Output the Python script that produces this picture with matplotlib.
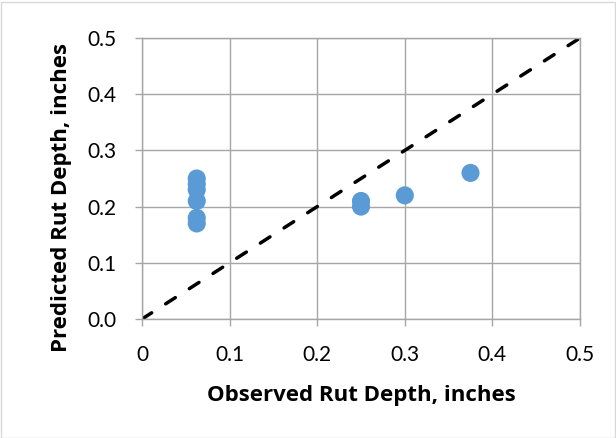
import matplotlib.pyplot as plt
from matplotlib.patches import Rectangle

# observed vs predicted rut depth (inches)
observed = [0.0625, 0.0625, 0.0625, 0.0625, 0.0625, 0.0625, 0.25, 0.25, 0.3, 0.375]
predicted = [0.25, 0.24, 0.23, 0.21, 0.18, 0.17, 0.21, 0.20, 0.22, 0.26]
line_of_equality = [0, 0.5]

plt.rcParams['font.family'] = ['Lato', 'DejaVu Sans']

W, H = 616, 438
fig = plt.figure(figsize=(W / 100, H / 100), dpi=100)
ax = fig.add_axes([142 / W, 1 - 319 / H, 438 / W, 281 / H])

ax.plot(line_of_equality, line_of_equality, color='black', linestyle=(0, (3.3, 4.8)), linewidth=2.5,
        dash_capstyle='round', zorder=2)
ax.scatter(observed, predicted, s=170, color='#5B9BD5', edgecolors='none', zorder=3)

ax.set_xlim(0, 0.5)
ax.set_ylim(0, 0.5)
ax.set_xticks([0, 0.1, 0.2, 0.3, 0.4, 0.5])
ax.set_xticklabels(['0', '0.1', '0.2', '0.3', '0.4', '0.5'])
ax.set_yticks([0, 0.1, 0.2, 0.3, 0.4, 0.5])
ax.set_yticklabels(['0.0', '0.1', '0.2', '0.3', '0.4', '0.5'])
ax.tick_params(length=5, width=1, color='#A6A6A6', labelsize=15)
ax.tick_params(axis='y', pad=13)
ax.tick_params(axis='x', pad=14)
ax.grid(True, color='#A6A6A6', linewidth=1)
ax.set_axisbelow(True)
for s in ax.spines.values():
    s.set_color('#A6A6A6')
    s.set_linewidth(1)

# axis titles placed like the Excel original
fig.text(361 / W, 1 - 395 / H, 'Observed Rut Depth, inches', family='Open Sans',
         fontsize=16, fontweight='bold', ha='center', va='center')
fig.text(61.5 / W, 1 - 197.5 / H, 'Predicted Rut Depth, inches', family='Open Sans',
         fontsize=16, fontweight='bold', ha='center', va='center', rotation=90)

fig.patches.append(Rectangle((0.5 / W, 0.5 / H), (W - 2) / W, (H - 2) / H, transform=fig.transFigure,
                             fill=False, edgecolor='#D9D9D9', linewidth=1))

fig.savefig('out.png', dpi=100)
